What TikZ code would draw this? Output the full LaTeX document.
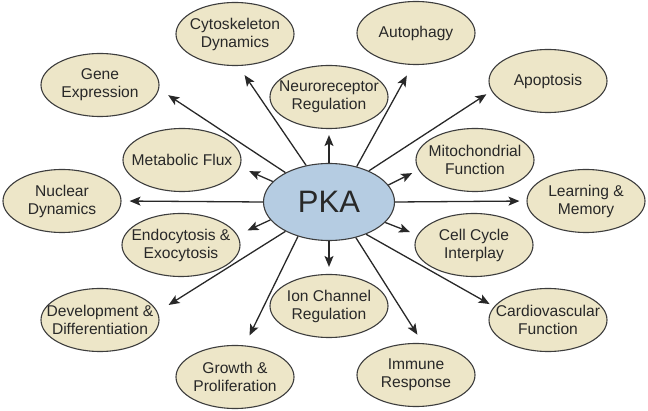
\documentclass[tikz,border=0pt]{standalone}
\usepackage{fontspec}
\setmainfont{Liberation Sans}
\usetikzlibrary{shapes.geometric,arrows.meta}
\definecolor{bubblefill}{RGB}{237,230,200}
\definecolor{pkafill}{RGB}{181,204,226}
\definecolor{inkgray}{RGB}{40,40,40}

\begin{document}
\begin{tikzpicture}[x=1pt,y=-1pt,
  bubble/.style={ellipse, draw=inkgray!90, line width=1.1pt, fill=bubblefill,
    minimum width=118pt, minimum height=63pt, inner sep=0pt},
  bubbletext/.style={align=center, text=inkgray, inner sep=0pt,
    font=\fontsize{15.6}{18}\selectfont},
  arr/.style={draw=inkgray, line width=1.3pt,
    -{Stealth[length=11pt,width=9pt,inset=2.5pt]}}]

\useasboundingbox (0,0) rectangle (648,411);

% Centre
\node[ellipse, draw=inkgray!90, line width=1.1pt, fill=pkafill,
  minimum width=131pt, minimum height=77pt, inner sep=0pt] (pka) at (329,202) {};
\node[text=inkgray, font=\fontsize{31}{36}\selectfont, inner sep=0pt] (pka-t) at (pka) {PKA};

% Bulles
\node[bubble] (cyto) at (235,34) {};
\node[bubbletext] (cyto-t) at (cyto) {Cytoskeleton\\Dynamics};
\node[bubble] (gene) at (100,85) {};
\node[bubbletext] (gene-t) at (gene) {Gene\\Expression};
\node[bubble] (neuro) at (329,97) {};
\node[bubbletext] (neuro-t) at (neuro) {Neuroreceptor\\Regulation};
\node[bubble] (auto) at (416,33) {};
\node[bubbletext] (auto-t) at (auto) {Autophagy};
\node[bubble] (apop) at (548,81) {};
\node[bubbletext] (apop-t) at (apop) {Apoptosis};
\node[bubble] (mito) at (475,160) {};
\node[bubbletext] (mito-t) at (mito) {Mitochondrial\\Function};
\node[bubble] (learn) at (586,201) {};
\node[bubbletext] (learn-t) at (learn) {Learning \&\\Memory};
\node[bubble] (cell) at (474,245) {};
\node[bubbletext] (cell-t) at (cell) {Cell Cycle\\Interplay};
\node[bubble] (cardio) at (548,320) {};
\node[bubbletext] (cardio-t) at (cardio) {Cardiovascular\\Function};
\node[bubble] (immune) at (416,375) {};
\node[bubbletext] (immune-t) at (immune) {Immune\\Response};
\node[bubble] (ion) at (329,306) {};
\node[bubbletext] (ion-t) at (ion) {Ion Channel\\Regulation};
\node[bubble] (growth) at (235,377) {};
\node[bubbletext] (growth-t) at (growth) {Growth \&\\Proliferation};
\node[bubble] (devel) at (100,320) {};
\node[bubbletext] (devel-t) at (devel) {Development \&\\Differentiation};
\node[bubble] (endo) at (181,245) {};
\node[bubbletext] (endo-t) at (endo) {Endocytosis \&\\Exocytosis};
\node[bubble] (nuclear) at (62,201) {};
\node[bubbletext] (nuclear-t) at (nuclear) {Nuclear\\Dynamics};
\node[bubble] (metab) at (182,160) {};
\node[bubbletext] (metab-t) at (metab) {Metabolic Flux};

% Fleches
\foreach \s/\n/\e/\g in {
122/cyto/-84/11, 146/gene/-4/11, 90/neuro/-90/6, 52/auto/-96/12,
38/apop/-170/6, 16/mito/-170/7, 0/learn/180/7, -20/cell/170/8,
-41/cardio/166/5, -53/immune/78/10, -90/ion/90/7, -132/growth/73/11,
-146/devel/8/13, -163/endo/10/11, 180/nuclear/0/8, 160/metab/-7/10
}
{
\draw[arr, shorten >=\g pt] (pka.\s) -- (\n.\e);
}

\end{tikzpicture}
\end{document}
